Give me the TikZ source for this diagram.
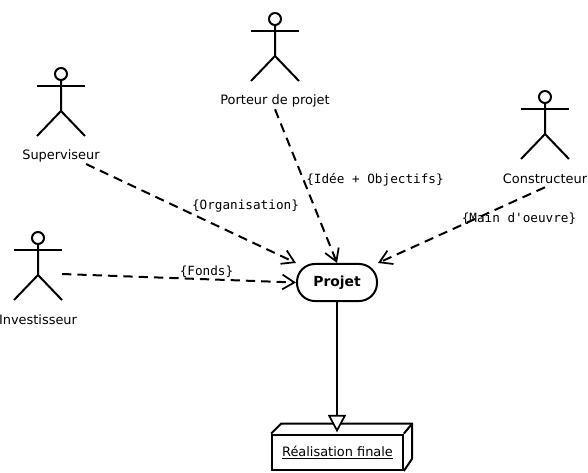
\documentclass[tikz,border=0pt]{standalone}
\usepackage{fontspec}
\setmainfont{DejaVu Sans}
\setmonofont{DejaVu Sans Mono}
\usetikzlibrary{arrows.meta,positioning}
\newcommand{\actor}[5]{% name, x, y of head, label, label height
  \node[actorhead] (#1) at (#2,#3) {};
  \draw[actorline] (#1.south) -- ++(0,30) coordinate (#1-hip)
    ++(-24,25) coordinate (#1-left) -- (#1-hip) -- ++(24,25) coordinate (#1-right);
  \draw[actorline] ([yshift=-5*0.75pt]#1.south) ++(-24,0) coordinate (#1-armleft) -- ++(48,0) coordinate (#1-armright);
  \node[actorlabel] (#1-label) at (#2,#3+#5) {#4};
}
\begin{document}
\begin{tikzpicture}[
      x=0.75pt, y=-0.75pt,
      actorhead/.style={circle, draw, line width=1.5pt, inner sep=0pt, minimum size=9pt},
      actorline/.style={line width=1.5pt},
      actorlabel/.style={font=\fontsize{9.7}{11}\selectfont, inner sep=0pt, minimum height=12pt},
      flowlabel/.style={font=\ttfamily\fontsize{9.5}{11}\selectfont, inner sep=0pt},
      flow/.style={line width=1.5pt, dash pattern=on 7pt off 4.5pt, -{Straight Barb[length=9pt,width=11pt,line width=1.3pt]}},
      usecase/.style={draw, fill=white, line width=1.5pt, rounded corners=13.5pt, minimum width=60pt, minimum height=27.8pt, font=\fontsize{10.4}{12}\selectfont\bfseries, inner sep=0pt},
      artefact/.style={draw, fill=white, line width=1.5pt, minimum width=98pt, minimum height=26.5pt, font=\fontsize{9.7}{11}\selectfont, inner sep=0pt},
      realizes/.style={line width=1.5pt, -{Triangle[open,fill=white,length=13pt,width=13.5pt,line width=1.3pt]}}
    ]
      \useasboundingbox (0,0) rectangle (588,472);
      \actor{porteur}{275}{19}{Porteur de projet}{82}
      \actor{superviseur}{61}{74}{Superviseur}{82}
      \actor{investisseur}{38}{238}{Investisseur}{82}
      \actor{constructeur}{545}{97}{Constructeur}{82}

      \node[usecase] (projet) at (337,282.5) {Projet};
      \node[artefact] (realisation) at (337.5,452.3) {\underline{Réalisation finale}};
      \draw[line width=1.5pt] (realisation.north west) -- ++(10,-10) coordinate (topleft) -- ++(131,0) coordinate (topright)
        -- ++(0,35) coordinate (backright) -- (realisation.south east);
      \draw[line width=1.5pt] (realisation.north east) -- (topright);

      \coordinate (superviseur-out) at (86,164);
      \coordinate (investisseur-out) at (62,274);
      \draw[flow] (superviseur-out) -- (projet.north west);
      \draw[flow] (porteur-label.south) -- (projet.north);
      \draw[flow] (constructeur-label.south) -- (projet.north east);
      \draw[flow] (investisseur-out) -- (projet.west);
      \draw[realizes] (projet.south) -- ([yshift=1pt]projet.south |- realisation.north);

      \node[flowlabel] (organisation) at (245.5,206.5) {\{Organisation\}};
      \node[flowlabel] (objectifs) at (375,179.5) {\{Idée + Objectifs\}};
      \node[flowlabel] (oeuvre) at (519,218.5) {\{Main d'oeuvre\}};
      \node[flowlabel] (fonds) at (206.5,271.5) {\{Fonds\}};
    \end{tikzpicture}
\end{document}
